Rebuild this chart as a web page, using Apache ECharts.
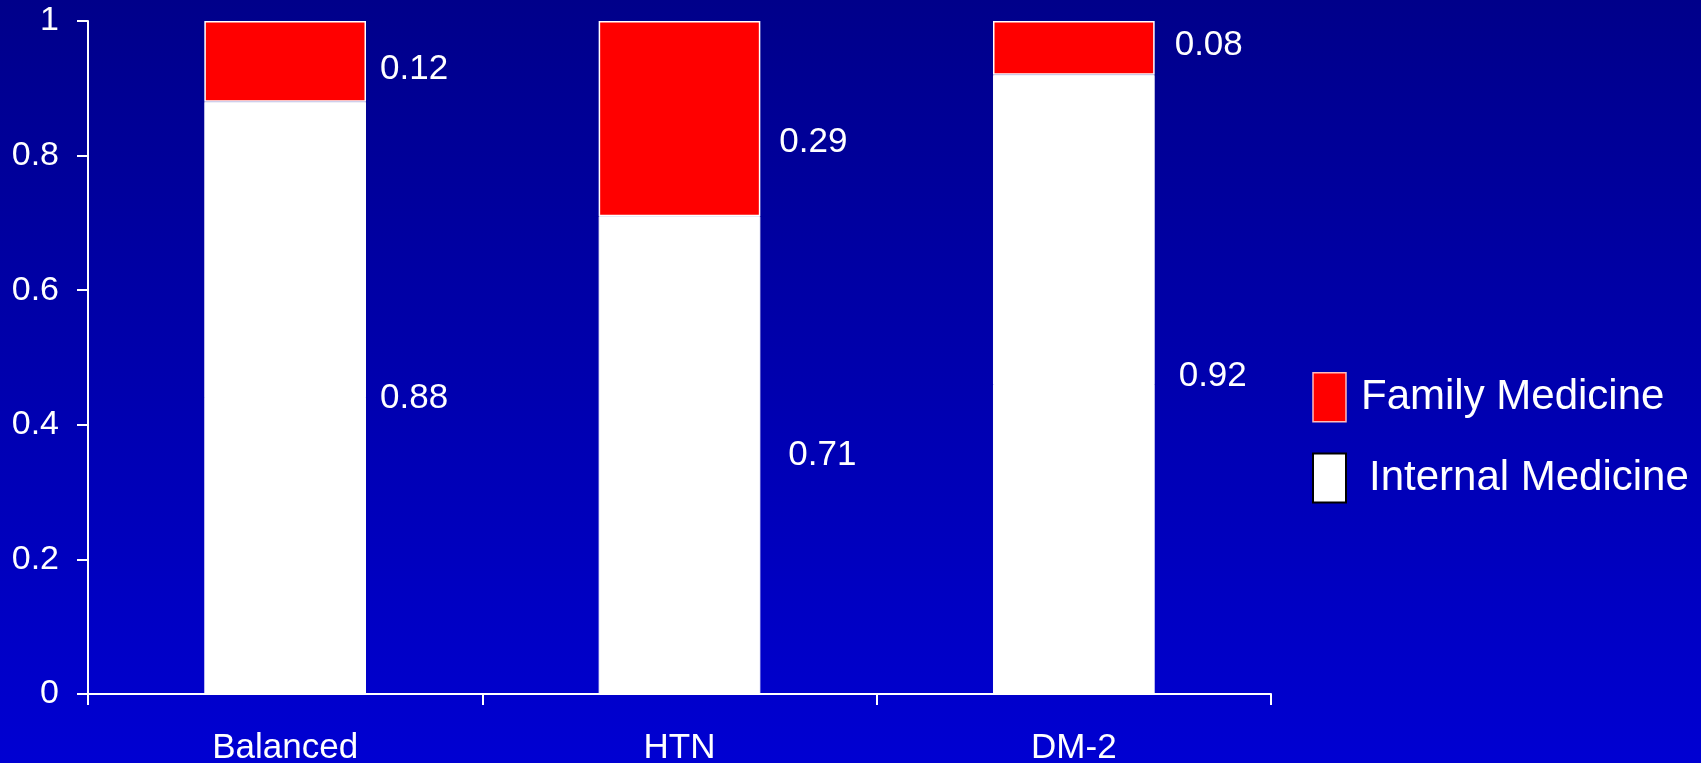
<!DOCTYPE html>
<html>
<head>
<meta charset="utf-8">
<script src="https://cdn.jsdelivr.net/npm/echarts@6/dist/echarts.min.js"></script>
<style>
  html, body { margin: 0; padding: 0; }
  body { background: linear-gradient(to bottom, #00008a 0%, #0000d2 100%); }
  #chart { width: 1701px; height: 763px; }
</style>
</head>
<body>
<div id="chart"></div>
<script>
// Share of prescriptions by specialty for each guideline scenario
const categories = ['Balanced', 'HTN', 'DM-2'];
const internalMedicine = [0.88, 0.71, 0.92];
const familyMedicine = [0.12, 0.29, 0.08];

// Small label nudges [dx, dy] so the value text sits beside each segment
const internalLabelNudge = [[0, 0], [14, 0], [10, -8]];
const familyLabelNudge = [[0, 8], [5, 24], [6, -3]];

const font = '"Liberation Sans", Arial, sans-serif';

function withLabels(values, nudges) {
  return values.map((v, i) => ({
    value: v,
    label: { offset: nudges[i] }
  }));
}

const chart = echarts.init(document.getElementById('chart'), null, { renderer: 'canvas' });

chart.setOption({
  backgroundColor: 'transparent',
  animation: false,
  textStyle: { fontFamily: font },
  grid: { left: 88, right: 430, top: 21, bottom: 69, containLabel: false, outerBoundsMode: 'none' },
  legend: {
    orient: 'vertical',
    left: 1307,
    top: 367,
    itemWidth: 33,
    itemHeight: 49,
    itemGap: 30,
    icon: 'rect',
    textStyle: {
      color: '#ffffff',
      fontSize: 42,
      fontFamily: font
    },
    data: [
      {
        name: 'Family Medicine',
        itemStyle: { color: '#ff0000', borderColor: '#ffbbbb', borderWidth: 1.5 },
        textStyle: { padding: [0, 0, 0, 10] }
      },
      {
        name: 'Internal Medicine',
        itemStyle: { color: '#ffffff', borderColor: '#000000', borderWidth: 2 },
        textStyle: { padding: [0, 0, 0, 18] }
      }
    ]
  },
  xAxis: {
    type: 'category',
    data: categories,
    boundaryGap: true,
    axisLine: { lineStyle: { color: '#ffffff', width: 2 } },
    axisTick: { show: true, length: 11, alignWithLabel: false, lineStyle: { color: '#ffffff', width: 2 } },
    axisLabel: { color: '#ffffff', fontSize: 35, margin: 37, fontFamily: font },
    splitLine: { show: false }
  },
  yAxis: {
    type: 'value',
    min: 0,
    max: 1,
    interval: 0.2,
    axisLine: { show: true, lineStyle: { color: '#ffffff', width: 2 } },
    axisTick: { show: true, length: 11, lineStyle: { color: '#ffffff', width: 2 } },
    axisLabel: { color: '#ffffff', fontSize: 34, margin: 29, fontFamily: font },
    splitLine: { show: false }
  },
  series: [
    {
      name: 'Internal Medicine',
      type: 'bar',
      stack: 'share',
      barWidth: '41%',
      data: withLabels(internalMedicine, internalLabelNudge),
      itemStyle: { color: '#ffffff', borderColor: '#ffffff', borderWidth: 1 },
      label: {
        show: true,
        position: 'right',
        distance: 14,
        color: '#ffffff',
        fontSize: 35,
        fontFamily: font,
        formatter: p => p.value.toFixed(2)
      }
    },
    {
      name: 'Family Medicine',
      type: 'bar',
      stack: 'share',
      barWidth: '41%',
      data: withLabels(familyMedicine, familyLabelNudge),
      itemStyle: { color: '#ff0000', borderColor: '#ffffff', borderWidth: 1.5 },
      label: {
        show: true,
        position: 'right',
        distance: 14,
        color: '#ffffff',
        fontSize: 35,
        fontFamily: font,
        formatter: p => p.value.toFixed(2)
      }
    }
  ]
});
</script>
</body>
</html>
